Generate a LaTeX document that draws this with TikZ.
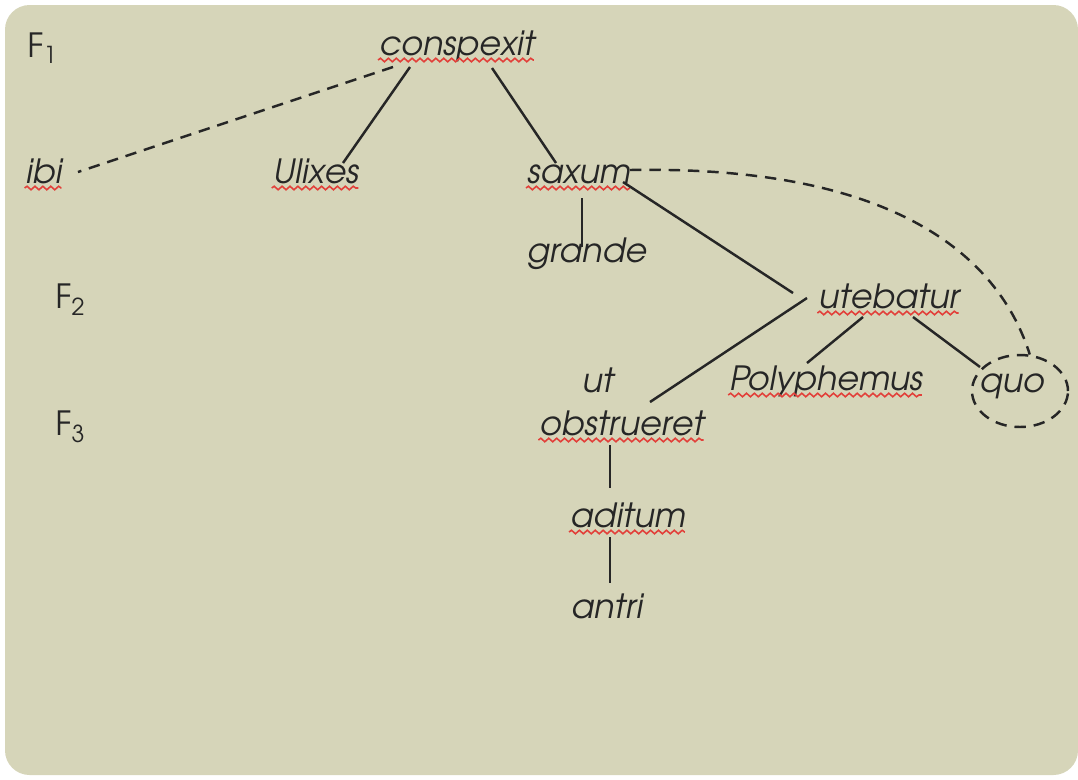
\documentclass[tikz,border=0pt]{standalone}
\usepackage[T1]{fontenc}
\usepackage{xcolor}
\usepackage{tikz}
\usetikzlibrary{calc,shapes.geometric,decorations.pathmorphing}

\definecolor{paper}{HTML}{D6D5B9}
\definecolor{ink}{HTML}{262626}
\definecolor{spellred}{HTML}{E2403A}

\begin{document}
\begin{tikzpicture}[
    x=0.02cm, y=-0.02cm,
    word/.style={anchor=base, inner sep=0pt, text=ink, font=\fontfamily{pag}\fontshape{sl}\fontsize{19}{22}\selectfont},
    flabel/.style={anchor=base west, inner sep=0pt, text=ink, font=\fontfamily{pag}\fontsize{19}{22}\selectfont},
    link/.style={draw=ink, line width=1.4pt},
    tie/.style={draw=ink, line width=1.4pt, dash pattern=on 6.5pt off 4.5pt},
    squig/.style={draw=spellred, line width=0.9pt, decorate, decoration={snake, amplitude=1pt, segment length=4.5pt}},
]
\useasboundingbox (0,0) rectangle (1078,779);
\fill[paper, rounded corners=14] (5,5) rectangle (1078,775);

% --- levels ---
\node[flabel] (fone) at (27,57) {F\textsubscript{1}};
\node[flabel] (ftwo) at (55,308) {F\textsubscript{2}};
\node[flabel] (fthree) at (55,435) {F\textsubscript{3}};

% --- words ---
\node[word] (cons) at (456,55) {conspexit};
\node[word] (ibi) at (43,183) {ibi};
\node[word] (ulix) at (315,183) {Ulixes};
\node[word] (saxum) at (578,183) {saxum};
\node[word] (grande) at (586,262) {grande};
\node[word] (uteb) at (888,308) {utebatur};
\node[word] (ut) at (597,392) {ut};
\node[word] (poly) at (825,390) {Polyphemus};
\node[word] (quo) at (1011,392) {quo};
\node[word] (obst) at (621,435) {obstrueret};
\node[word] (adit) at (627,527) {aditum};
\node[word] (antri) at (606,618) {antri};
\node[draw=ink, line width=1.4pt, dash pattern=on 6.5pt off 4.5pt, ellipse, minimum width=1.92cm, minimum height=1.44cm] (quoring) at (1020,391) {};

% spell-check underlines
\foreach \w in {cons,ibi,ulix,saxum,uteb,poly,obst,adit} {
    \draw[squig] ($(\w.base west)+(0,5)$) -- ($(\w.base east)+(0,5)$);
}

% --- tree ---
\draw[tie] ($(cons.base)+(-63,12)$) -- ($(ibi.base)+(35,-11)$);
\draw[link] ($(cons.base)+(-46,12)$) -- ($(ulix.base)+(28,-20)$);
\draw[link] ($(cons.base)+(36,13)$) -- ($(saxum.base)+(-22,-20)$);
\draw[link] ($(saxum.base)+(4,15)$) -- ($(grande.base)+(-4,-15)$);
\draw[link] ($(saxum.base)+(45,-1)$) -- ($(uteb.base)+(-95,-15)$);
\draw[tie] ($(saxum.base)+(52,-13)$) .. controls (900,165) and (1000,260) .. (quoring.75);
\draw[link] ($(uteb.base)+(-81,-10)$) -- ($(obst.base)+(29,-33)$);
\draw[link] ($(uteb.base)+(-25,9)$) -- ($(poly.base)+(-18,-27)$);
\draw[link] ($(uteb.base)+(25,9)$) -- ($(quo.base)+(-31,-25)$);
\draw[link] ($(obst.base)+(-11,10)$) -- ($(adit.base)+(-17,-39)$);
\draw[link] ($(adit.base)+(-17,10)$) -- ($(antri.base)+(4,-35)$);

\end{tikzpicture}
\end{document}
